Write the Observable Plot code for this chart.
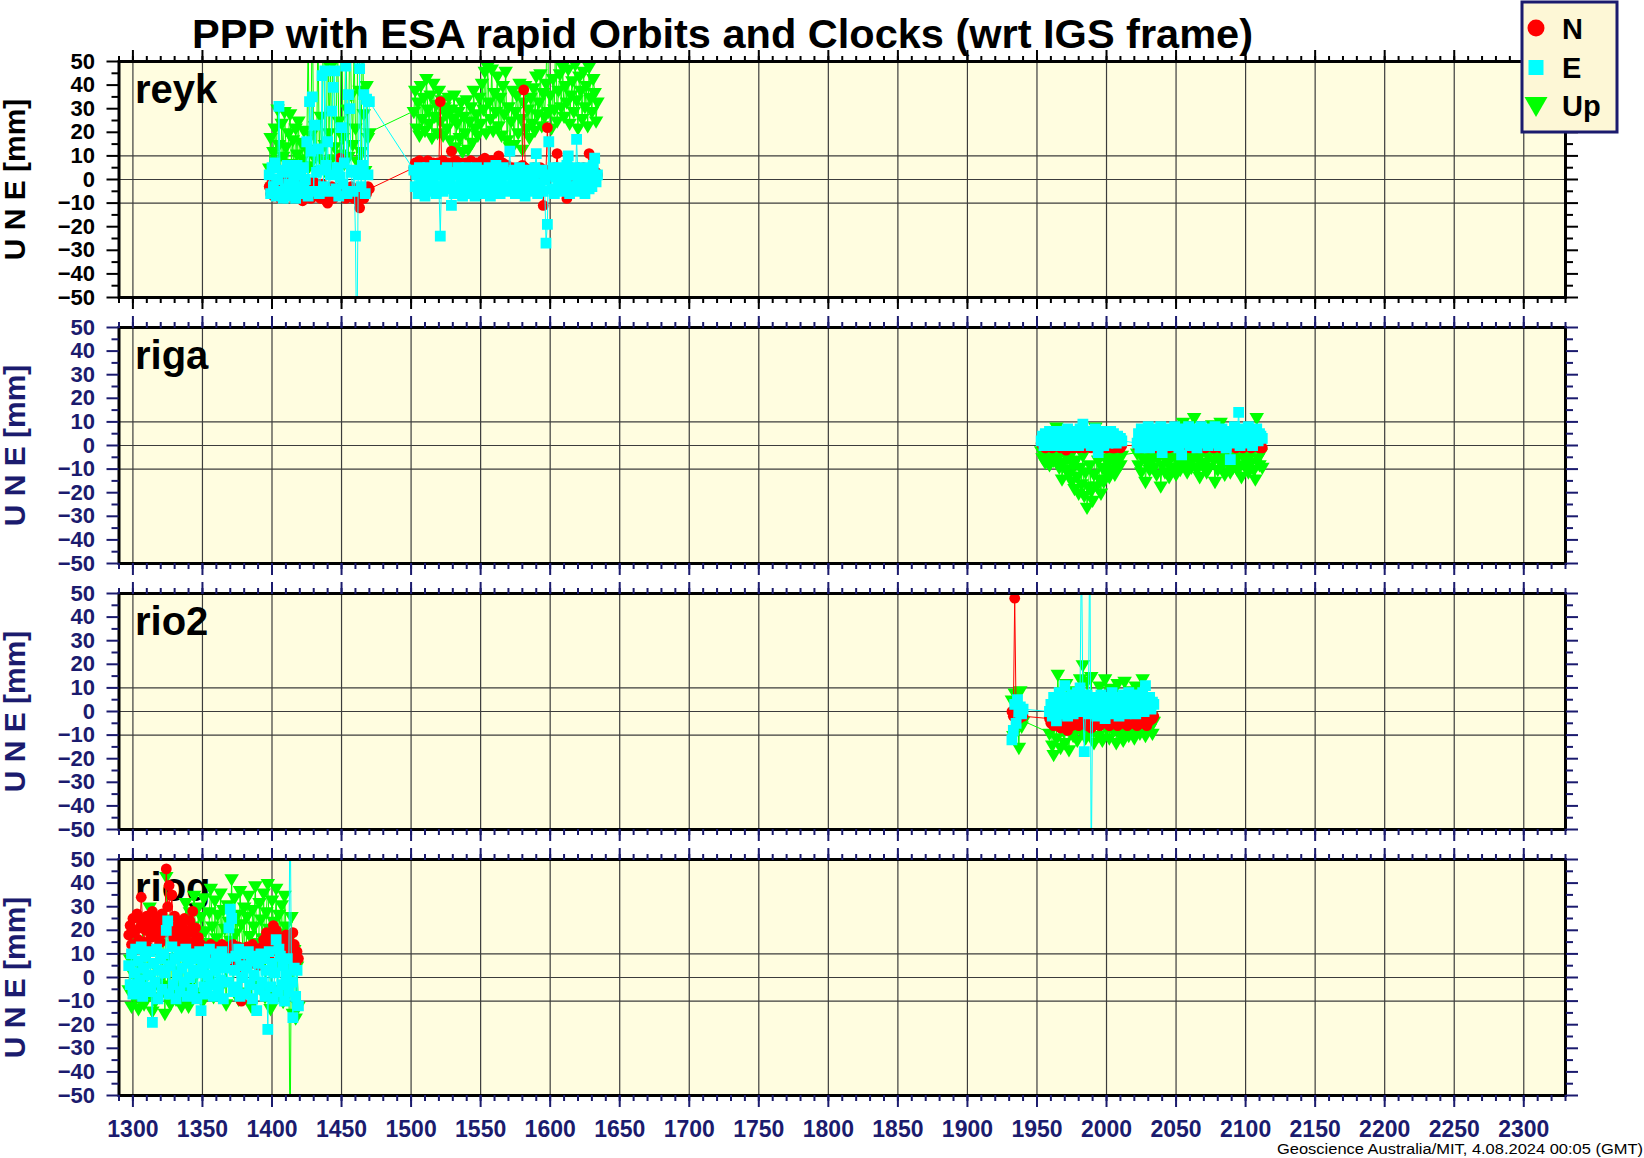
<!DOCTYPE html>
<html><head><meta charset="utf-8">
<script src="https://cdn.jsdelivr.net/npm/d3@7"></script>
<script src="https://cdn.jsdelivr.net/npm/@observablehq/plot@0.6"></script>
<style>
html,body{margin:0;padding:0;background:#fff;overflow:hidden}
#chart{position:relative;width:1644px;height:1158px;font-family:"Liberation Sans",Arial,Helvetica,sans-serif}
#chart svg{position:absolute;left:0}
</style></head><body><div id="chart"></div>
<script>
// ---------------- DATA ----------------
const title = "PPP with ESA rapid Orbits and Clocks (wrt IGS frame)";
const footer = "Geoscience Australia/MIT, 4.08.2024 00:05 (GMT)";
const yTitle = "U N E [mm]";
const stations = ["reyk", "riga", "rio2", "riog"];
const seriesNames = ["N", "E", "Up"];
const xTickLabels = [1300,1350,1400,1450,1500,1550,1600,1650,1700,1750,1800,1850,1900,1950,2000,2050,2100,2150,2200,2250,2300];
const yTickLabels = [-50,-40,-30,-20,-10,0,10,20,30,40,50];
const yGridValues = [-10, 0, 10];
const xDomain = [1290, 2330];
const yDomain = [-50, 50];

// GPS-week spans covered by each station (one value per week within the spans)
const reykSpans = [[1398,1470],[1502,1634]];
const rigaSpans = [[1953,2011],[2022,2112]];
const rio2Spans = [[1932,1940],[1959,2034]];
const riogSpans = [[1297,1419]];

const reykN = [
-3,-6,-1,-7,-4,0,-6,-2,-8,-5,-1,-7,
-4,-6,0,-7,-3,-5,-8,-2,-6,-4,-7,-1,
-9,-5,-3,-7,-2,-6,-8,-4,-1,-6,-7,-3,
-5,-8,-2,-6,-4,-9,-10,-7,-5,-3,-8,-6,
-7,-5,-4,9,-3,-6,-5,-8,-4,-7,-6,-3,
-5,-8,-4,-6,-9,-12,-7,-4,-8,-5,-6,-3,
-4,
5,7,3,6,8,4,6,2,7,5,8,3,
6,4,7,5,2,7,6,33,5,8,4,6,
3,7,5,12,4,6,8,2,5,7,3,6,
4,7,2,6,5,8,3,6,4,7,5,2,
6,8,4,9,5,7,3,6,8,4,5,7,
3,10,6,4,7,2,5,6,3,4,2,5,
3,4,1,5,2,4,6,38,5,3,4,2,
4,1,5,3,2,4,1,5,3,-11,2,4,
22,3,1,4,2,5,3,11,2,4,1,3,
2,4,-8,3,1,5,2,4,3,1,5,2,
4,2,5,3,1,4,11,3,2,4,1,3,
2];
const reykE = [
2,-6,5,-3,7,-7,0,31,-5,4,-8,3,
-4,6,-2,-7,4,-5,1,-8,6,-3,2,-6,
5,-4,0,16,-7,33,12,35,-5,23,3,13,
-6,4,44,-3,46,6,16,-5,2,29,39,46,
-4,5,-7,1,22,-2,7,48,-6,36,30,3,
-5,4,-24,-80,2,47,-3,6,36,-6,34,2,
33,
4,-3,2,-6,5,0,-4,3,-7,1,5,-2,
-5,3,-1,6,-6,2,-3,-24,4,-5,1,-2,
5,-4,0,-11,3,-6,2,-3,5,-5,1,-7,
3,-2,5,-6,0,4,-4,2,-7,5,-1,3,
-5,1,4,-6,2,-3,5,-7,0,3,-4,6,
-2,4,-6,1,5,-3,2,-5,3,12,-4,0,
4,-6,2,-2,5,-4,0,3,-7,1,-3,4,
-5,2,-1,5,11,-6,3,-2,4,-5,0,-27,
-19,16,2,-4,5,-6,1,3,-3,5,-5,0,
4,-2,6,10,-6,2,-3,5,-4,17,1,-5,
3,-2,5,-6,1,4,-4,2,-3,6,9,-1,
2];
const reykU = [
5,18,-3,12,22,8,30,15,-2,24,10,29,
14,3,20,28,7,17,-4,22,11,25,2,16,
9,21,-1,13,60,6,19,75,10,23,4,65,
12,27,8,80,15,3,70,20,48,9,90,14,
5,65,25,11,85,18,7,60,30,10,72,36,
15,55,22,8,95,38,12,66,28,4,40,18,
20,
29,38,22,33,19,40,26,35,21,43,30,24,
36,18,41,27,32,20,38,25,34,19,31,28,
22,35,17,30,26,36,14,24,29,18,33,12,
27,20,34,13,25,31,16,38,22,28,19,35,
24,41,30,46,20,48,33,26,47,21,37,29,
44,23,35,19,40,28,46,17,31,14,25,38,
15,29,36,20,41,26,13,33,40,22,30,18,
35,24,39,21,44,28,33,45,23,37,27,41,
70,29,36,22,43,30,65,25,38,45,31,48,
27,40,33,47,24,36,42,29,49,34,22,44,
38,26,46,31,40,23,48,35,29,43,37,25,
33];

const rigaN = [
1,0,2,-1,1,0,2,0,-1,1,0,2,
0,1,-1,2,0,1,-2,2,0,1,0,-1,
1,2,0,-1,1,0,2,-1,1,0,2,0,
-1,1,0,2,-1,1,0,2,0,-1,1,-1,
2,0,1,-1,-1,-1,1,0,2,-1,0,
0,1,2,-1,1,0,2,0,-1,1,2,0,
1,-1,2,0,1,0,-1,2,1,0,2,-1,
0,1,2,0,-1,1,2,0,1,-1,2,1,
0,2,-1,1,0,1,2,-1,0,1,2,0,
1,-1,2,0,1,2,0,-1,1,2,0,1,
-1,2,0,1,2,0,-1,1,2,0,1,-1,
2,0,1,2,-1,0,1,2,0,1,-1,2,
0,1,2,0,-1,1,-1];
const rigaE = [
2,4,0,5,1,3,6,0,4,2,5,1,
3,6,0,4,2,5,1,7,3,0,5,2,
6,1,4,0,7,3,9,5,1,6,2,4,
0,5,3,7,1,-3,4,2,6,0,3,5,
1,4,6,2,5,3,1,4,2,3,2,
1,5,-1,7,3,0,6,2,8,-1,4,6,
2,7,0,5,3,8,-3,4,1,6,2,7,
3,0,5,8,2,6,-1,4,-4,7,1,5,
3,8,0,6,2,4,7,-1,5,3,8,1,
6,2,4,0,7,3,5,1,8,2,6,0,
4,7,2,5,-1,3,6,-6,1,4,8,2,
5,14,0,6,3,7,1,4,8,2,5,0,
6,3,7,2,5,4,3];
const rigaU = [
-2,-5,1,-7,-3,0,-8,-4,-1,-6,-2,8,
-5,-9,-3,-14,-7,-2,-10,-5,-12,-4,-15,-8,
-18,-6,-13,-20,-9,-16,-4,-21,-11,-26,-17,-8,
-19,-23,-12,8,-17,-6,-14,-20,-9,-15,-5,-11,
-7,-13,-4,-10,-6,-12,-3,-9,-5,-8,-4,
-3,-8,-1,-11,-5,-2,-15,-7,-4,-10,-1,-6,
-9,-3,-12,-5,-1,-17,-8,-4,-11,-2,-7,-13,
-5,-1,-9,-4,-12,-6,-2,-10,-7,10,-3,-8,
-11,-4,-1,-9,-6,12,-2,-10,-5,-13,-3,-8,
-1,-7,-11,-4,-9,-2,9,-6,-15,-3,-10,-5,
10,-8,-2,-12,-4,-7,-1,-11,-5,-9,-3,-6,
-10,-2,-8,-13,-4,-1,-9,-6,-11,-3,-7,-2,
-10,-14,12,-5,-8,-3,-9];

const rio2N = [
0,-2,48,-1,1,-3,-1,0,-2,
-3,-5,-2,-6,-4,-1,-5,-3,-7,-2,-4,-6,
-3,-8,-5,-2,-6,-4,-1,-5,-3,-6,-2,-4,
-5,-1,-3,-6,-2,-4,-7,-3,-1,-5,-2,-4,
-6,-3,-1,-4,-2,-5,-3,-6,-1,-4,-2,-5,
-3,-6,-2,-4,-1,-5,-3,-2,-6,-4,-1,-3,
-5,-2,-4,-6,-3,-1,-5,-2,-4,-3,-6,-2,
-4,-1,-3,-2];
const rio2E = [
-12,-8,3,-5,5,0,2,-1,1,
0,3,-2,6,1,-4,4,8,-1,5,2,11,
3,-2,6,1,7,-1,4,2,8,0,10,70,
5,-17,3,7,-1,80,-70,4,1,6,-2,5,
2,7,0,4,-3,6,1,5,-1,8,3,0,
6,2,-2,5,1,7,3,-1,4,8,0,5,
2,6,-1,4,7,1,3,8,0,11,5,2,
6,1,4,3];
const rio2U = [
5,-10,8,-3,2,-15,9,-6,-4,
-9,-4,-14,-18,3,-11,16,-6,-15,1,-8,-13,
12,-5,-16,-2,9,-10,-7,4,-12,-3,14,-8,
20,-4,-11,13,-1,-9,15,-6,-13,2,-3,-10,
11,-5,-12,-1,14,-7,-2,-11,10,-4,-8,0,
-13,12,-5,-9,-1,-12,13,-6,-3,-10,9,-2,
-8,-11,11,-4,-1,-9,-6,14,-3,-10,-5,0,
-7,-2,-9,-4];

const riogN = [
18,22,14,25,19,12,27,16,21,34,24,15,
20,26,13,23,17,28,21,12,25,18,22,15,
27,19,24,46,30,39,22,35,17,26,20,14,
23,18,22,12,25,16,20,13,24,19,28,15,
21,12,17,10,14,8,13,11,6,12,9,14,
10,7,13,11,5,12,9,14,8,11,6,13,
10,12,7,14,9,11,5,13,8,-10,12,10,
7,13,9,11,6,14,10,8,12,5,11,9,
13,16,10,19,14,8,18,12,22,15,20,11,
17,9,15,7,13,18,10,16,8,12,19,14,
6,11,8];
const riogE = [
5,-3,10,-7,2,12,-5,7,-1,13,-8,4,
9,-4,1,11,-6,-19,6,-2,12,-9,3,8,
-5,10,2,20,24,-7,5,13,-3,8,-9,1,
11,-6,4,9,-2,12,-8,6,0,10,-5,3,
8,-9,2,11,-14,5,-4,9,-7,1,12,-3,
6,-8,3,10,-5,7,-1,11,-9,4,8,-2,
21,29,25,-6,3,9,-4,12,-8,5,0,10,
-7,4,11,-3,7,-9,1,9,-14,6,-5,10,
-2,8,-8,3,-22,11,-4,6,-9,2,16,-6,
12,9,-3,5,-10,1,8,-6,80,-2,-17,4,
-8,3,-12];
const riogU = [
-5,8,-12,2,-8,15,-3,-13,5,-9,22,-11,
0,-7,12,30,-4,-14,6,-10,18,-2,-8,10,
-6,25,-15,43,-3,8,-11,20,-5,14,-9,3,
-7,24,-12,16,-4,32,-9,-12,28,-2,22,35,
18,-6,30,12,26,-10,34,20,15,-3,28,38,
22,-8,33,17,27,-5,36,14,29,21,-11,31,
24,16,42,-4,34,19,27,-9,37,23,13,30,
-6,26,35,18,-12,29,22,39,15,-3,32,25,
17,36,-8,28,40,21,-13,33,24,14,38,-5,
27,19,31,-10,35,22,-3,16,-80,26,-15,12,
-17,5,-12];

// ---------------- BUILD ----------------
function weekly(spans, values) {
  const out = []; let k = 0;
  for (const [a, b] of spans) for (let w = a; w <= b && k < values.length; w++) out.push({w, v: values[k++]});
  return out;
}
const panels = [
  {name: "reyk", N: weekly(reykSpans, reykN), E: weekly(reykSpans, reykE), Up: weekly(reykSpans, reykU)},
  {name: "riga", N: weekly(rigaSpans, rigaN), E: weekly(rigaSpans, rigaE), Up: weekly(rigaSpans, rigaU)},
  {name: "rio2", N: weekly(rio2Spans, rio2N), E: weekly(rio2Spans, rio2E), Up: weekly(rio2Spans, rio2U)},
  {name: "riog", N: weekly(riogSpans, riogN), E: weekly(riogSpans, riogE), Up: weekly(riogSpans, riogU)}
];

const FONT = '"Liberation Sans", Arial, Helvetica, sans-serif';
const navy = "#1b1b6e";
const panelBg = "#fffde0";
const gridColor = "#3c3c3c";
const colN = "#ff0000", colE = "#00ffff", colU = "#00ff00";
const W = 1644, LEFT = 118.5, RIGHT = 1565, PANEL_H = 236, PITCH = 266, TOP0 = 61;
const MT = 20, MB = 10, MB_LAST = 55;
const xMinor = d3.range(xDomain[0], xDomain[1] + 1, 10);
const yMinor = d3.range(-45, 50, 10);

const symSquare = {draw(ctx, size) { const r = Math.sqrt(size / Math.PI); ctx.rect(-r, -r, 2 * r, 2 * r); }};
const symTriDown = {draw(ctx, size) { const r = Math.sqrt(size / Math.PI);
  ctx.moveTo(-1.3 * r, -0.73 * r); ctx.lineTo(1.3 * r, -0.73 * r); ctx.lineTo(0, 1.47 * r); ctx.closePath(); }};
const minusFmt = d => (d < 0 ? "\u2212" + Math.abs(d) : String(d));
const blank = () => "";

const chart = document.getElementById("chart");

panels.forEach((p, i) => {
  const last = i === panels.length - 1;
  const ac = i === 0 ? "black" : navy;
  const mb = last ? MB_LAST : MB;
  const ser = (data, color, symbol, r) => [
    Plot.line(data, {x: "w", y: "v", stroke: color, strokeWidth: 1, clip: true}),
    Plot.dot(data, {x: "w", y: "v", fill: color, stroke: "none", symbol, r, clip: true})
  ];
  const tk = {label: null, strokeWidth: 2, color: ac, stroke: ac};
  const marks = [
    Plot.frame({fill: panelBg, stroke: "none"}),
    Plot.ruleX(xTickLabels, {x: d => d, stroke: gridColor, strokeWidth: 1.2}),
    Plot.ruleY(yGridValues, {y: d => d, stroke: gridColor, strokeWidth: 1.2}),
    Plot.text([p.name], {text: d => d, frameAnchor: "top-left", dx: 16, dy: 12.6, lineAnchor: "top", textAnchor: "start",
      fontSize: 40, fontWeight: "bold", fill: "black", fontFamily: FONT}),
    ...ser(p.Up, colU, symTriDown, 5.6),
    ...ser(p.N, colN, "circle", 5.4),
    ...ser(p.E, colE, symSquare, 5.4),
    Plot.frame({stroke: "black", strokeWidth: 3, fill: "none"}),
    Plot.axisX(xTickLabels, {...tk, anchor: "top", tickSize: 12, tickFormat: blank}),
    Plot.axisX(xMinor, {...tk, anchor: "top", tickSize: 6, tickFormat: blank}),
    Plot.axisX(xMinor, {...tk, anchor: "bottom", tickSize: 6, tickFormat: blank}),
    last
      ? Plot.axisX(xTickLabels, {...tk, anchor: "bottom", tickSize: 12, tickPadding: 13, tickFormat: d => String(d),
          fontSize: 23, fontWeight: "bold", fill: navy, fontFamily: FONT})
      : Plot.axisX(xTickLabels, {...tk, anchor: "bottom", tickSize: 12, tickFormat: blank}),
    Plot.axisY(yTickLabels, {...tk, anchor: "left", tickSize: 12, tickPadding: 12, tickFormat: minusFmt,
      fontSize: 22, fontWeight: "bold", fill: ac, fontFamily: FONT}),
    Plot.axisY(yMinor, {...tk, anchor: "left", tickSize: 7, tickFormat: blank}),
    Plot.axisY(yTickLabels, {...tk, anchor: "right", tickSize: 12, tickFormat: blank}),
    Plot.axisY(yMinor, {...tk, anchor: "right", tickSize: 7, tickFormat: blank}),
    Plot.text([yTitle], {text: d => d, frameAnchor: "left", dx: 24 - LEFT, rotate: -90, textAnchor: "middle",
      lineAnchor: "bottom", fontSize: 30, fontWeight: "bold", fill: ac, fontFamily: FONT})
  ];
  const svg = Plot.plot({
    width: W, height: MT + PANEL_H + mb,
    marginLeft: LEFT, marginRight: W - RIGHT, marginTop: MT, marginBottom: mb,
    x: {domain: xDomain}, y: {domain: yDomain},
    style: {background: "transparent", overflow: "visible", fontFamily: FONT},
    marks
  });
  svg.style.top = (TOP0 + PITCH * i - MT) + "px";
  svg.style.fontWeight = "bold";
  chart.appendChild(svg);
});

// ---------------- TITLE / LEGEND / FOOTER ----------------
const ns = "http://www.w3.org/2000/svg";
const ov = document.createElementNS(ns, "svg");
ov.setAttribute("width", W); ov.setAttribute("height", 1158);
ov.style.top = "0px"; ov.style.pointerEvents = "none";
function el(tag, attrs, text) {
  const e = document.createElementNS(ns, tag);
  for (const k in attrs) e.setAttribute(k, attrs[k]);
  if (text != null) e.textContent = text;
  ov.appendChild(e); return e;
}
el("text", {x: 192, y: 48, "font-family": FONT, "font-size": 40, "font-weight": "bold", fill: "black",
  textLength: 1061, lengthAdjust: "spacingAndGlyphs"}, title);
el("text", {x: 1643, y: 1154, "font-family": FONT, "font-size": 15.5, fill: "black", "text-anchor": "end",
  textLength: 366, lengthAdjust: "spacingAndGlyphs"}, footer);
// legend
el("rect", {x: 1522, y: 2, width: 95, height: 130, fill: "#fdf7d6", stroke: navy, "stroke-width": 3});
el("circle", {cx: 1536, cy: 28, r: 8.5, fill: colN});
el("rect", {x: 1528.5, y: 60, width: 15, height: 15, fill: colE});
el("path", {d: "M1524.5,97 L1547.5,97 L1536,117 Z", fill: colU});
const legY = [39, 78, 116];
seriesNames.forEach((s, k) => el("text", {x: 1562, y: legY[k], "font-family": FONT, "font-size": 29, "font-weight": "bold", fill: "black"}, s));
chart.appendChild(ov);
</script>
</body></html>
